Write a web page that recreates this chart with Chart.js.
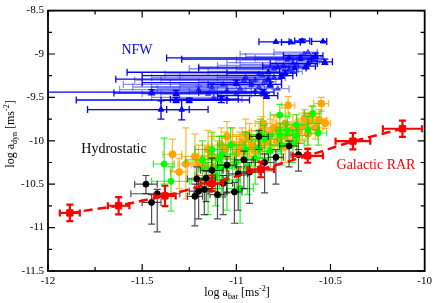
<!DOCTYPE html>
<html>
<head>
<meta charset="utf-8">
<script src="https://cdn.jsdelivr.net/npm/chart.js@4.4.0/dist/chart.umd.min.js"></script>
<style>
  html, body { margin: 0; padding: 0; background: #fff; }
</style>
</head>
<body>
<canvas id="rar" width="436" height="303"></canvas>
<script>
// rows: [x, y, xLow, xHigh, yLow, yHigh]  (log10 of m/s^2)
const nfwSolid = [
  [-10.79, -8.86, -10.88, -10.72, null, null],
  [-10.71, -8.865, -10.76, -10.66, null, null],
  [-10.65, -8.85, -10.69, -10.61, -8.87, -8.83],
  [-10.54, -8.855, -10.60, -10.52, null, null],
  [-10.72, -9.045, -11.37, -10.60, null, null],
  [-10.58, -9.02, -10.75, -10.54, -9.05, -8.99],
  [-10.66, -9.06, -11.29, -10.60, null, null],
  [-10.53, -9.09, -10.62, -10.49, -9.12, -9.06],
  [-10.63, -9.14, -10.86, -10.58, -9.17, -9.11],
  [-10.69, -9.16, -11.20, -10.63, null, null],
  [-10.83, -9.21, -11.58, -10.77, null, null],
  [-10.76, -9.25, -11.50, -10.70, -9.28, -9.22],
  [-10.83, -9.29, -11.64, -10.76, null, null],
  [-11.00, -9.33, -11.50, -10.93, -9.36, -9.30],
  [-11.45, -9.44, -12.00, -10.90, -9.47, -9.41],
  [-11.32, -9.45, -11.65, -10.85, -9.48, -9.42],
  [-10.84, -9.48, -11.10, -10.78, -9.51, -9.45],
  [-11.32, -9.53, -11.85, -10.93, -9.56, -9.50],
  [-11.25, -9.535, -11.40, -11.05, -9.56, -9.51],
  [-11.40, -9.64, -11.79, -11.25, -9.75, -9.54],
  [-11.29, -9.64, -11.37, -11.15, -9.76, -9.53],
  [-11.08, -9.52, -11.35, -10.99, -9.56, -9.49],
  [-10.62, -9.11, -10.82, -10.57, null, null],
  [-10.74, -9.22, -11.05, -10.68, -9.25, -9.19],
  [-10.82, -9.35, -11.15, -10.76, -9.38, -9.32],
  [-10.86, -9.44, -11.20, -10.80, -9.47, -9.41]
];
const nfwFaint = [
  [-10.64, -9.00, -10.98, -10.57, null, null],
  [-10.61, -9.08, -10.79, -10.56, null, null],
  [-10.70, -9.10, -11.05, -10.64, null, null],
  [-10.88, -9.23, -11.38, -10.82, null, null],
  [-10.95, -9.27, -11.45, -10.88, null, null],
  [-10.96, -9.30, -11.54, -10.90, null, null],
  [-10.88, -9.38, -11.45, -10.81, -9.41, -9.35],
  [-11.07, -9.35, -11.60, -11.00, null, null],
  [-10.92, -9.36, -11.30, -10.85, null, null],
  [-11.13, -9.38, -11.55, -11.05, -9.42, -9.34],
  [-11.05, -9.42, -11.45, -10.95, null, null],
  [-11.20, -9.41, -11.62, -11.10, -9.45, -9.37],
  [-11.00, -9.46, -11.40, -10.92, null, null],
  [-11.05, -9.52, -11.30, -10.97, null, null],
  [-10.75, -9.13, -11.10, -10.70, null, null],
  [-10.80, -9.17, -11.25, -10.74, null, null],
  [-10.60, -9.05, -10.90, -10.55, null, null],
  [-10.90, -9.30, -11.40, -10.84, null, null],
  [-11.15, -9.46, -11.50, -11.08, null, null],
  [-10.70, -9.20, -11.15, -10.65, null, null],
  [-10.62, -8.98, -10.80, -10.57, null, null],
  [-10.58, -9.06, -10.70, -10.55, -9.08, -9.04],
  [-10.66, -9.03, -10.95, -10.61, null, null],
  [-10.73, -9.07, -11.00, -10.68, null, null],
  [-10.68, -9.12, -10.98, -10.63, null, null],
  [-10.78, -9.15, -11.20, -10.72, null, null],
  [-10.72, -9.18, -11.00, -10.67, -9.21, -9.15],
  [-10.86, -9.25, -11.30, -10.80, null, null],
  [-10.80, -9.27, -11.10, -10.74, null, null],
  [-10.92, -9.33, -11.35, -10.86, null, null],
  [-10.85, -9.32, -11.20, -10.79, null, null],
  [-10.98, -9.40, -11.42, -10.92, null, null],
  [-10.90, -9.43, -11.25, -10.84, null, null],
  [-11.12, -9.50, -11.45, -11.05, null, null],
  [-10.78, -9.40, -11.05, -10.72, null, null]
];
const hydroPoints = [
  [-11.48, -10.50, -11.54, -11.42, -10.61, -10.40],
  [-11.42, -10.61, -11.56, -11.30, -11.05, -10.56],
  [-11.45, -10.71, -11.50, -11.40, -10.96, -10.62],
  [-11.22, -10.64, -11.26, -11.18, -10.98, -10.50],
  [-11.20, -10.58, -11.25, -11.15, -10.90, -10.45],
  [-11.17, -10.56, -11.21, -11.13, -10.85, -10.45],
  [-11.21, -10.44, -11.26, -11.16, -10.60, -10.30],
  [-11.13, -10.34, -11.19, -11.07, -10.55, -10.20],
  [-11.16, -10.43, -11.21, -11.11, -10.70, -10.35],
  [-11.07, -10.49, -11.12, -11.02, -10.85, -10.40],
  [-11.01, -10.59, -11.05, -10.97, -10.95, -10.48],
  [-10.99, -10.38, -11.04, -10.94, -10.80, -10.30],
  [-10.93, -10.36, -10.98, -10.88, -10.72, -10.25],
  [-10.88, -9.95, -10.93, -10.83, -10.10, -9.88],
  [-10.79, -10.19, -10.83, -10.75, -10.50, -10.10],
  [-10.72, -10.06, -10.77, -10.67, -10.30, -10.00],
  [-10.67, -10.16, -10.71, -10.63, -10.35, -10.10],
  [-11.05, -10.28, -11.10, -11.00, -10.60, -10.18],
  [-10.96, -10.22, -11.01, -10.91, -10.55, -10.12],
  [-11.10, -10.62, -11.14, -11.06, -10.90, -10.50],
  [-10.85, -10.25, -10.90, -10.80, -10.60, -10.15]
];
const greenPoints = [
  [-11.383, -10.267, -11.44, -11.33, -10.50, -9.97],
  [-11.347, -10.466, -11.45, -11.25, -10.81, -10.30],
  [-11.09, -10.21, -11.18, -11.00, -10.55, -9.95],
  [-11.10, -10.32, -11.20, -11.02, -10.65, -10.10],
  [-11.11, -10.40, -11.22, -11.02, -10.75, -10.20],
  [-10.872, -9.929, -10.93, -10.81, -10.20, -9.75],
  [-10.767, -9.929, -10.84, -10.70, -10.15, -9.80],
  [-10.565, -9.91, -10.62, -10.52, -10.05, -9.80],
  [-11.075, -10.155, -11.15, -11.00, -10.45, -9.95],
  [-10.769, -9.703, -10.82, -10.72, -9.85, -9.58],
  [-10.68, -9.816, -10.74, -10.62, -10.00, -9.70],
  [-10.68, -9.94, -10.74, -10.62, -10.15, -9.82],
  [-10.593, -9.684, -10.64, -10.55, -9.80, -9.60],
  [-10.95, -10.10, -11.02, -10.88, -10.40, -9.90],
  [-11.00, -10.25, -11.08, -10.92, -10.60, -10.05],
  [-10.90, -10.20, -10.97, -10.83, -10.50, -10.00],
  [-11.05, -10.45, -11.12, -10.98, -10.80, -10.25],
  [-10.82, -10.12, -10.88, -10.76, -10.35, -9.95],
  [-10.70, -10.03, -10.76, -10.64, -10.25, -9.88],
  [-11.18, -10.22, -11.27, -11.10, -10.55, -10.00],
  [-11.15, -10.46, -11.24, -11.06, -10.85, -10.25],
  [-10.98, -10.55, -11.05, -10.91, -10.95, -10.35],
  [-10.85, -9.98, -10.92, -10.78, -10.20, -9.82],
  [-11.03, -10.05, -11.10, -10.96, -10.30, -9.85],
  [-10.62, -9.87, -10.68, -10.56, -10.05, -9.72],
  [-10.76, -10.05, -10.82, -10.70, -10.28, -9.88],
  [-10.88, -10.08, -10.95, -10.81, -10.35, -9.90],
  [-11.08, -10.30, -11.17, -11.00, -10.65, -10.10],
  [-10.94, -10.30, -11.01, -10.87, -10.62, -10.10],
  [-10.73, -9.88, -10.79, -10.67, -10.05, -9.72],
  [-11.13, -10.10, -11.22, -11.05, -10.40, -9.90]
];
const orangePoints = [
  [-10.725, -9.59, -10.76, -10.69, -9.68, -9.49],
  [-10.549, -9.571, -10.59, -10.51, -9.66, -9.50],
  [-10.528, -9.797, -10.56, -10.50, -9.86, -9.74],
  [-10.637, -9.74, -10.68, -10.59, -9.85, -9.64],
  [-10.60, -9.70, -10.64, -10.56, -9.80, -9.60],
  [-10.62, -9.78, -10.67, -10.57, -9.90, -9.68],
  [-10.856, -9.80, -10.90, -10.81, -10.05, -9.49],
  [-10.80, -9.85, -10.86, -10.74, -10.05, -9.70],
  [-11.339, -10.155, -11.39, -11.29, -10.35, -9.98],
  [-11.268, -10.267, -11.31, -11.23, -10.67, -9.85],
  [-11.303, -10.36, -11.35, -11.26, -10.55, -10.20],
  [-11.057, -10.098, -11.12, -11.00, -10.35, -9.90],
  [-10.97, -10.02, -11.04, -10.90, -10.25, -9.85],
  [-10.83, -10.02, -10.89, -10.77, -10.22, -9.85],
  [-10.785, -9.87, -10.84, -10.73, -10.05, -9.72],
  [-10.864, -9.89, -10.92, -10.81, -10.08, -9.72],
  [-10.72, -9.91, -10.77, -10.67, -10.08, -9.78],
  [-10.67, -9.89, -10.72, -10.62, -10.02, -9.76],
  [-10.92, -10.05, -10.99, -10.85, -10.28, -9.88],
  [-10.74, -10.07, -10.80, -10.68, -10.25, -9.92],
  [-11.00, -10.15, -11.07, -10.93, -10.40, -9.95],
  [-11.10, -10.20, -11.18, -11.03, -10.45, -10.00],
  [-11.15, -10.10, -11.22, -11.08, -10.35, -9.88],
  [-10.90, -10.12, -10.96, -10.84, -10.35, -9.95],
  [-11.05, -9.95, -11.12, -10.98, -10.20, -9.78],
  [-10.95, -9.93, -11.02, -10.88, -10.15, -9.75],
  [-11.12, -10.30, -11.20, -11.05, -10.55, -10.10],
  [-10.68, -9.98, -10.73, -10.63, -10.15, -9.85],
  [-11.20, -10.25, -11.27, -11.13, -10.50, -10.05],
  [-10.88, -9.95, -10.94, -10.82, -10.15, -9.78],
  [-10.76, -9.95, -10.81, -10.71, -10.12, -9.80],
  [-11.02, -10.04, -11.09, -10.95, -10.28, -9.85],
  [-10.65, -9.83, -10.70, -10.60, -10.00, -9.68],
  [-10.70, -9.86, -10.75, -10.65, -10.05, -9.70],
  [-10.58, -9.85, -10.62, -10.54, -9.98, -9.72],
  [-10.74, -9.80, -10.79, -10.69, -9.98, -9.62],
  [-10.82, -9.93, -10.88, -10.76, -10.12, -9.75],
  [-10.78, -10.00, -10.84, -10.72, -10.20, -9.82],
  [-10.86, -10.05, -10.92, -10.80, -10.25, -9.88],
  [-10.93, -9.98, -11.00, -10.86, -10.18, -9.80],
  [-11.08, -10.05, -11.15, -11.01, -10.28, -9.85],
  [-11.13, -10.17, -11.20, -11.06, -10.40, -9.95],
  [-11.17, -10.28, -11.24, -11.10, -10.50, -10.05],
  [-11.22, -10.18, -11.29, -11.15, -10.42, -9.92],
  [-10.98, -10.10, -11.05, -10.91, -10.32, -9.90],
  [-10.62, -9.92, -10.67, -10.57, -10.08, -9.78],
  [-10.56, -9.76, -10.60, -10.52, -9.88, -9.64]
];
const galacticRar = [
  [-11.884, -10.831, -11.937, -11.831, -10.926, -10.736],
  [-11.625, -10.748, -11.682, -11.568, -10.848, -10.648],
  [-11.379, -10.635, -11.436, -11.322, -10.752, -10.518],
  [-11.13, -10.49, -11.19, -11.07, -10.58, -10.40],
  [-10.87, -10.33, -10.94, -10.80, -10.42, -10.24],
  [-10.621, -10.173, -10.70, -10.54, -10.253, -10.093],
  [-10.381, -10.004, -10.473, -10.289, -10.098, -9.910],
  [-10.118, -9.861, -10.222, -10.014, -9.955, -9.767]
];
const xTicks = [-12, -11.5, -11, -10.5, -10];
const yTicks = [-11.5, -11, -10.5, -10, -9.5, -9, -8.5];

const serif = "'Liberation Serif', 'DejaVu Serif', serif";

function toPoints(rows) {
  return rows.map(r => ({ x: r[0], y: r[1] }));
}
function toErrors(rows) {
  return rows.map(r => r.slice(2));
}

// error bars drawn just before each dataset so markers sit on top
const errorBars = {
  id: 'errorBars',
  beforeDatasetDraw(chart, args) {
    const ds = chart.data.datasets[args.index];
    if (!ds.errors) return;
    const xs = chart.scales.x, ys = chart.scales.y;
    const ctx = chart.ctx;
    const area = chart.chartArea;
    const cap = ds.capSize;
    ctx.save();
    ctx.beginPath();
    ctx.rect(area.left, area.top, area.right - area.left, area.bottom - area.top);
    ctx.clip();
    ctx.strokeStyle = ds.errorColor;
    ctx.lineWidth = ds.errorWidth;
    ds.errors.forEach((e, i) => {
      const p = ds.data[i];
      const px = xs.getPixelForValue(p.x);
      const py = ys.getPixelForValue(p.y);
      ctx.beginPath();
      if (e[0] !== null) {
        const a = xs.getPixelForValue(e[0]), b = xs.getPixelForValue(e[1]);
        ctx.moveTo(a, py); ctx.lineTo(b, py);
        ctx.moveTo(a, py - cap); ctx.lineTo(a, py + cap);
        ctx.moveTo(b, py - cap); ctx.lineTo(b, py + cap);
      }
      if (e[2] !== null) {
        const a = ys.getPixelForValue(e[2]), b = ys.getPixelForValue(e[3]);
        ctx.moveTo(px, a); ctx.lineTo(px, b);
        ctx.moveTo(px - cap, a); ctx.lineTo(px + cap, a);
        ctx.moveTo(px - cap, b); ctx.lineTo(px + cap, b);
      }
      ctx.stroke();
    });
    ctx.restore();
  }
};

// box frame, inward ticks on all sides, labels with sub/superscripts
const frame = {
  id: 'frame',
  afterDatasetsDraw(chart) {
    const ctx = chart.ctx;
    const a = chart.chartArea;
    const xs = chart.scales.x, ys = chart.scales.y;
    ctx.save();
    ctx.strokeStyle = '#000';
    ctx.lineWidth = 1.8;
    ctx.strokeRect(a.left, a.top, a.right - a.left, a.bottom - a.top);
    ctx.lineWidth = 1.2;
    ctx.beginPath();
    for (let v = -12; v <= -10.001; v += 0.25) {
      const x = xs.getPixelForValue(v);
      const len = Math.abs(v * 2 - Math.round(v * 2)) < 1e-6 ? 7 : 4;
      ctx.moveTo(x, a.bottom); ctx.lineTo(x, a.bottom - len);
      ctx.moveTo(x, a.top); ctx.lineTo(x, a.top + len);
    }
    for (let v = -11.5; v <= -8.5; v += 0.25) {
      const y = ys.getPixelForValue(v);
      const len = Math.abs(v * 2 - Math.round(v * 2)) < 1e-6 ? 7 : 4;
      ctx.moveTo(a.left, y); ctx.lineTo(a.left + len, y);
      ctx.moveTo(a.right, y); ctx.lineTo(a.right - len, y);
    }
    ctx.stroke();

    // annotations
    ctx.font = '14px ' + serif;
    ctx.textAlign = 'center';
    ctx.textBaseline = 'alphabetic';
    ctx.fillStyle = '#0000ff';
    ctx.fillText('NFW', 137, 54);
    ctx.fillStyle = '#000';
    ctx.fillText('Hydrostatic', 114, 153);
    ctx.fillStyle = '#ff0000';
    ctx.fillText('Galactic RAR', 376, 169);

    // axis titles
    ctx.fillStyle = '#000';
    drawTitle(ctx, 'dyn', 14, 134, -Math.PI / 2);
    drawTitle(ctx, 'bar', 237, 296, 0);
    ctx.restore();
  }
};

function drawTitle(ctx, sub, cx, cy, rot) {
  const big = '12px ' + serif, small = '8px ' + serif;
  const parts = [
    { t: 'log a', f: big, dy: 0 },
    { t: sub, f: small, dy: 3 },
    { t: ' [ms', f: big, dy: 0 },
    { t: '-2', f: small, dy: -5 },
    { t: ']', f: big, dy: 0 }
  ];
  let w = 0;
  parts.forEach(p => { ctx.font = p.f; p.w = ctx.measureText(p.t).width; w += p.w; });
  ctx.save();
  ctx.translate(cx, cy);
  ctx.rotate(rot);
  ctx.textAlign = 'left';
  let x = -w / 2;
  parts.forEach(p => {
    ctx.font = p.f;
    ctx.fillText(p.t, x, p.dy);
    x += p.w;
  });
  ctx.restore();
}

function scatterSet(rows, color, errColor, style, radius, capSize, errWidth) {
  return {
    data: toPoints(rows),
    errors: toErrors(rows),
    errorColor: errColor,
    errorWidth: errWidth,
    capSize: capSize,
    showLine: false,
    pointStyle: style,
    pointRadius: radius,
    pointBackgroundColor: color,
    pointBorderColor: color,
    pointBorderWidth: 1
  };
}

const datasets = [
  scatterSet(nfwFaint, 'rgba(0,0,255,0.6)', 'rgba(0,0,255,0.45)', 'triangle', 3, 3.5, 1.3),
  scatterSet(nfwSolid, '#0000ff', '#0000ff', 'triangle', 3.2, 3.5, 1.3),
  Object.assign(scatterSet(galacticRar, '#ff0000', '#ff0000', 'rect', 4.5, 3.5, 2.2), {
    showLine: true,
    borderColor: '#ff0000',
    borderWidth: 2.5,
    borderDash: [9, 5]
  }),
  scatterSet(hydroPoints, '#000000', 'rgba(0,0,0,0.7)', 'circle', 3, 3.5, 1.2),
  scatterSet(greenPoints, '#00ff00', 'rgba(0,235,0,0.8)', 'circle', 3, 3.5, 1.2),
  scatterSet(orangePoints, '#ffa500', 'rgba(255,165,0,0.8)', 'circle', 3.5, 3.5, 1.2)
];

new Chart(document.getElementById('rar'), {
  type: 'scatter',
  data: { datasets: datasets },
  options: {
    responsive: false,
    animation: false,
    events: [],
    layout: { padding: { top: 5, right: 8, left: 0, bottom: 0 } },
    plugins: { legend: { display: false }, tooltip: { enabled: false } },
    scales: {
      x: {
        type: 'linear',
        min: -12,
        max: -10,
        afterBuildTicks: s => { s.ticks = xTicks.map(v => ({ value: v })); },
        afterFit: s => { s.height = 32; },
        grid: { display: false, drawTicks: false },
        border: { display: false },
        ticks: {
          autoSkip: false,
          maxRotation: 0,
          padding: 4,
          color: '#000',
          font: { family: serif, size: 11 },
          callback: v => String(v)
        }
      },
      y: {
        type: 'linear',
        min: -11.5,
        max: -8.5,
        afterBuildTicks: s => { s.ticks = yTicks.map(v => ({ value: v })); },
        afterFit: s => { s.width = 48; },
        grid: { display: false, drawTicks: false },
        border: { display: false },
        ticks: {
          autoSkip: false,
          padding: 4,
          color: '#000',
          font: { family: serif, size: 11 },
          callback: v => String(v)
        }
      }
    }
  },
  plugins: [errorBars, frame]
});
</script>
</body>
</html>
